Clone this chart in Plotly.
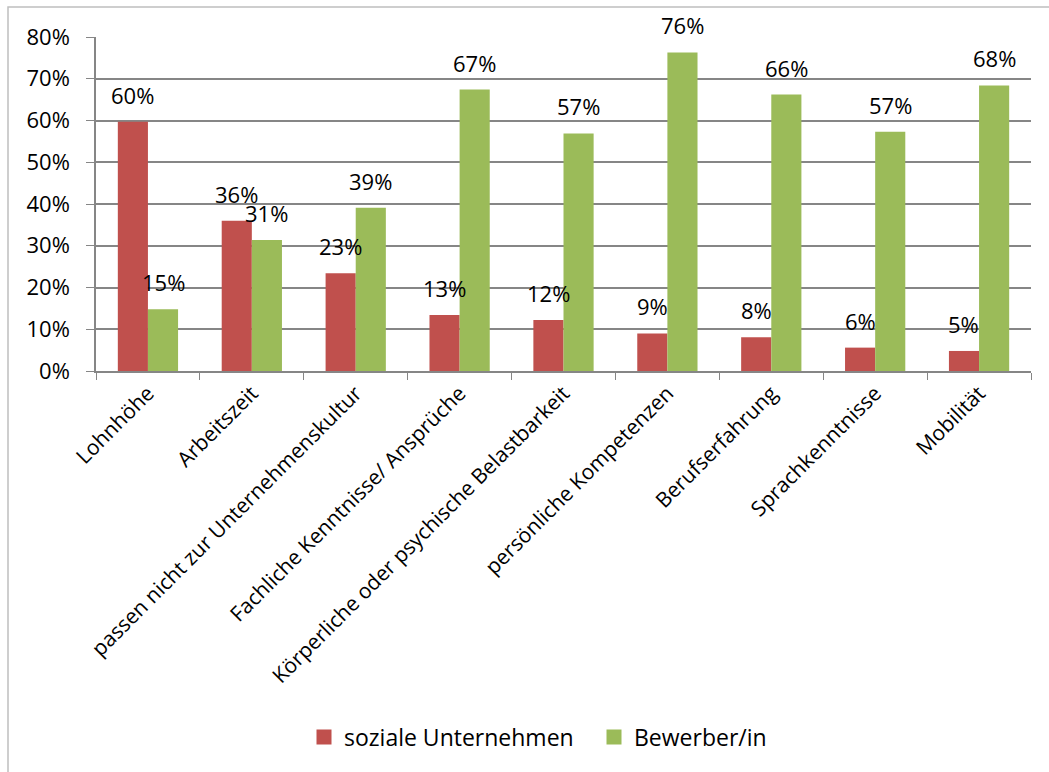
import plotly.graph_objects as go

categories = [
    "Lohnhöhe",
    "Arbeitszeit",
    "passen nicht zur Unternehmenskultur",
    "Fachliche Kenntnisse/ Ansprüche",
    "Körperliche oder psychische Belastbarkeit",
    "persönliche Kompetenzen",
    "Berufserfahrung",
    "Sprachkenntnisse",
    "Mobilität",
]
soziale_unternehmen = [0.597, 0.360, 0.234, 0.134, 0.122, 0.090, 0.081, 0.056, 0.048]
bewerber = [0.148, 0.314, 0.391, 0.674, 0.569, 0.763, 0.662, 0.573, 0.684]
y_ticks = [0, 0.1, 0.2, 0.3, 0.4, 0.5, 0.6, 0.7, 0.8]
series_names = ["soziale Unternehmen", "Bewerber/in"]

RED = "#c0504d"
GREEN = "#9bbb59"
GRID = "#868686"
FONT = "Open Sans"
FS = 22

W, H = 1049, 772
ML, MR, MT, MB = 96, 18, 37, 401
plot_w = W - ML - MR
plot_h = H - MT - MB

fig = go.Figure()
for name, vals, col in ((series_names[0], soziale_unternehmen, RED),
                        (series_names[1], bewerber, GREEN)):
    fig.add_trace(go.Bar(name=name, x=categories, y=vals, showlegend=False,
                         marker=dict(color=col, line=dict(width=0))))
# legend keys as larger square swatches
for name, col in ((series_names[0], RED), (series_names[1], GREEN)):
    fig.add_trace(go.Scatter(name=name, x=[None], y=[None], mode="markers",
                             marker=dict(symbol="square", size=15, color=col)))

# value labels above each bar
bargap = 0.42
bar_px = plot_w / len(categories) * (1 - bargap) / 2
annotations = []
for series, shift in ((soziale_unternehmen, -bar_px / 2), (bewerber, bar_px / 2)):
    for cat, v in zip(categories, series):
        annotations.append(dict(
            x=cat, y=v, xref="x", yref="y", text=f"{v:.0%}", showarrow=False,
            xshift=shift, yshift=10, yanchor="bottom",
            font=dict(family=FONT, size=FS, color="black"),
        ))

# outer chart frame
fx0 = (8 - ML) / plot_w
fx1 = (W + 10 - ML) / plot_w
fy1 = (H - MB - 7) / plot_h
fy0 = (H - MB - (H + 10)) / plot_h

fig.update_layout(
    width=W, height=H,
    margin=dict(l=ML, r=MR, t=MT, b=MB),
    paper_bgcolor="white", plot_bgcolor="white",
    barmode="group", bargap=bargap, bargroupgap=0,
    font=dict(family=FONT, size=FS, color="black"),
    showlegend=True,
    legend=dict(orientation="h", x=(304 - ML) / plot_w, xanchor="left",
                y=-1.096, yanchor="middle", entrywidth=245, entrywidthmode="pixels",
                font=dict(family=FONT, size=23, color="black"), itemwidth=30),
    annotations=annotations,
    shapes=[dict(type="rect", xref="paper", yref="paper", x0=fx0, x1=fx1, y0=fy0, y1=fy1,
                 line=dict(color="#bfbfbf", width=1.5), fillcolor="rgba(0,0,0,0)", layer="below")],
)
fig.update_xaxes(
    type="category", tickson="boundaries", ticks="outside", ticklen=7, tickcolor=GRID,
    showline=True, linecolor=GRID, linewidth=1.5, showgrid=False,
    tickangle=-45, tickfont=dict(family=FONT, size=21, color="black"),
)
fig.update_yaxes(
    range=[0, 0.8], tickvals=y_ticks, tickformat=".0%", ticks="outside", ticklen=8,
    tickcolor=GRID, showline=True, linecolor=GRID, linewidth=1.5,
    showgrid=True, gridcolor=GRID, gridwidth=1.5, zeroline=False,
    ticklabelstandoff=12, tickfont=dict(family=FONT, size=FS, color="black"),
)

fig.write_html("out.html")
